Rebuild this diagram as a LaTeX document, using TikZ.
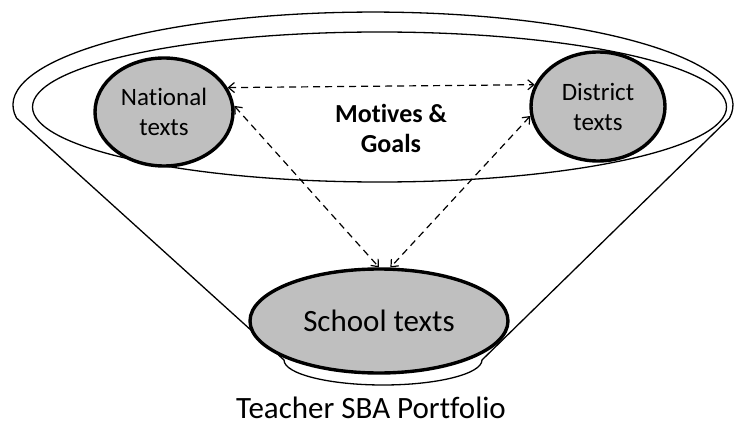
\documentclass[tikz,border=0pt]{standalone}
\usepackage{fontspec}
\setmainfont{Carlito}[Ligatures=NoCommon]
\usetikzlibrary{shapes.geometric,arrows.meta}
\definecolor{grayfill}{RGB}{191,191,191}
\begin{document}
\begin{tikzpicture}[x=1pt,y=1pt,
  outline/.style={line width=1.3pt},
  textblob/.style={ellipse,draw,line width=3.4pt,fill=grayfill,inner sep=0pt,align=center},
  link/.style={dash pattern=on 7pt off 5pt,line width=1.2pt,
    {Straight Barb[length=6pt,width=10pt]}-{Straight Barb[length=6pt,width=10pt]}}]
\useasboundingbox (0,0) rectangle (737,-425);
% cone
\draw[outline] (16.5,-118) arc[start angle=188,end angle=-8,x radius=360,y radius=93]
  -- (482,-360) arc[start angle=0,end angle=-180,x radius=99,y radius=25] -- cycle;
% inner ellipse
\draw[outline] (379.5,-107) ellipse[x radius=347,y radius=75];
% nodes
\node[textblob,minimum width=138pt,minimum height=108pt,font=\fontsize{25}{30}\selectfont] (nat) at (164,-112) {National\\texts};
\node[textblob,minimum width=134pt,minimum height=109pt,font=\fontsize{25}{30}\selectfont] (dis) at (598,-106.5) {District\\texts};
\node[textblob,minimum width=258pt,minimum height=104pt,font=\fontsize{31}{36}\selectfont] (sch) at (379,-321) {School texts};
\node[align=center,font=\fontsize{26}{30}\selectfont\bfseries] (mot) at (391,-128) {Motives \&\\Goals};
\node[anchor=base,inner sep=0pt,font=\fontsize{31}{36}\selectfont] (tea) at (371,-418) {Teacher SBA Portfolio};
% connectors
\draw[link] (nat.21) -- (dis.161);
\draw[link] (nat.5) -- (sch.north);
\draw[link] (dis.188) -- (sch.78);
\end{tikzpicture}
\end{document}
